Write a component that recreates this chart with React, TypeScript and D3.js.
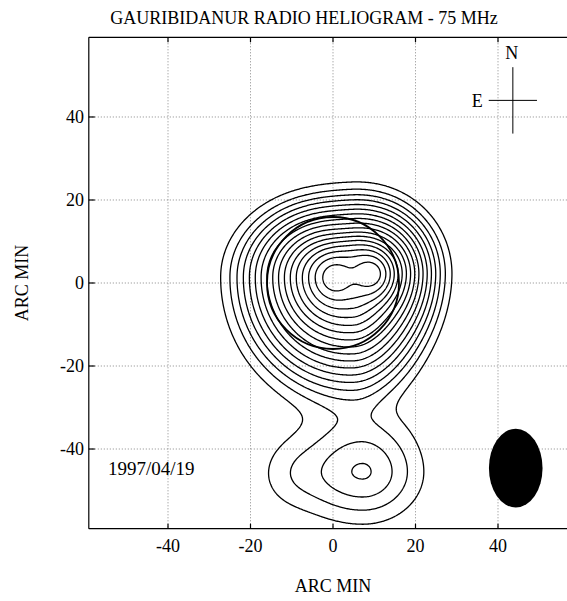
import React from 'react';
import * as d3 from 'd3';

// axes (arc min)
const extent = [-59.2, 59.2];
const xTicks = [-40, -20, 0, 20, 40];
const yTicks = [-40, -20, 0, 20, 40];
const levels = [1, 2, 3, 4, 5, 6, 7, 8, 9, 10, 11, 12, 13, 14, 15, 16, 17, 18];

// emission components: soft cones around one or two peaks
const coneX1 = [0.5, 7.2];
const coneY1 = [1.3, -45.5];
const coneX2 = [9.0, 7.2];
const coneY2 = [2.2, -45.5];
const conePeak = [20.2, 6.3];
const coneSlope = [0.714, 0.38];
const coneCore = [3.4, 5.8];
const coneTail = [1.5, 0.9];
const coneMerge = [2.6, 1.0];
const coneBlend = [12, 0];
const coneLeft = [0.98, 1.3];
const coneRight = [0.7, 1.08];
const coneUp = [0.75, 1.0];
const coneDown = [1.14, 0.92];

// faint gaussian features: bulge west of the southern source, bridge at the neck
const blobX = [-11, 6];
const blobY = [-46, -33];
const blobAmp = [0.95, 0.22];
const blobSx = [5.5, 16];
const blobSy = [6, 4];

// solar disk, beam, compass
const sunR = 16;
const beam = { x: 44.3, y: -44.6, rx: 6.5, ry: 9.5 };
const compass = { x: 43.6, y: 44, ns: 8, ew: 5.85 };
const dateLabel = '1997/04/19';

const W = 567, H = 601;
const font = '"Liberation Serif", "Times New Roman", serif';

function field(x: number, y: number) {
  let v = 0;
  for (let i = 0; i < coneX1.length; i++) {
    const single = coneX1[i] === coneX2[i] && coneY1[i] === coneY2[i];
    const d1 = Math.hypot(x - coneX1[i], y - coneY1[i]);
    const d2 = Math.hypot(x - coneX2[i], y - coneY2[i]);
    const t = coneMerge[i];
    const m = Math.min(d1, d2);
    let d = single ? d1 : m - t * Math.log(Math.exp((m - d1) / t) + Math.exp((m - d2) / t));

    // direction-dependent stretch, faded in away from the core
    const rx = x - (coneX1[i] + coneX2[i]) / 2, ry = y - (coneY1[i] + coneY2[i]) / 2;
    const r = Math.hypot(rx, ry);
    if (r > 0) {
      const kx = rx < 0 ? coneLeft[i] : coneRight[i];
      const ky = ry > 0 ? coneUp[i] : coneDown[i];
      const ks = r / Math.hypot(rx / kx, ry / ky);
      let wgt = 1;
      if (coneBlend[i] > 0) {
        const u = Math.min(1, r / coneBlend[i]);
        wgt = u * u * (3 - 2 * u);
      }
      d = d / (1 + (ks - 1) * wgt);
    }
    const f = conePeak[i] - coneSlope[i] * Math.sqrt(d * d + coneCore[i] * coneCore[i]);
    const tau = coneTail[i];
    v += f / tau > 30 ? f : tau * Math.log(1 + Math.exp(f / tau));
  }
  for (let i = 0; i < blobX.length; i++) {
    const dx = (x - blobX[i]) / blobSx[i], dy = (y - blobY[i]) / blobSy[i];
    v += blobAmp[i] * Math.exp(-0.5 * (dx * dx + dy * dy));
  }
  return v;
}

export default function App() {
  const x = d3.scaleLinear().domain(extent).range([88.8, 577.2]);
  const y = d3.scaleLinear().domain(extent).range([528.7, 37.3]);

  const step = 0.25;
  const n = Math.ceil((extent[1] - extent[0]) / step) + 1;
  const values = new Array(n * n);
  for (let j = 0; j < n; j++) {
    for (let i = 0; i < n; i++) {
      values[j * n + i] = field(extent[0] + i * step, extent[0] + j * step);
    }
  }
  const contours = d3.contours().size([n, n]).thresholds(levels)(values);
  const proj = d3.geoTransform({
    point(cx: number, cy: number) {
      (this as any).stream.point(
        x(extent[0] + (cx - 0.5) * step),
        y(extent[0] + (cy - 0.5) * step)
      );
    },
  });
  const path = d3.geoPath(proj);

  const x0 = x(extent[0]), x1 = x(extent[1]);
  const y0 = y(extent[0]), y1 = y(extent[1]);

  return (
    <svg width={W} height={H} style={{ position: 'absolute', left: 0, top: 0, background: '#fff' }}>
      <defs>
        <clipPath id="plot">
          <rect x={x0} y={y1} width={x1 - x0} height={y0 - y1} />
        </clipPath>
      </defs>
      <rect width={W} height={H} fill="#fff" />
      <text x={304} y={24} textAnchor="middle" fontFamily={font} fontSize={18}>
        GAURIBIDANUR RADIO HELIOGRAM - 75 MHz
      </text>

      {xTicks.map(t => (
        <line key={'gx' + t} x1={x(t)} x2={x(t)} y1={y1} y2={y0} stroke="#888" strokeWidth={1} strokeDasharray="1 2" />
      ))}
      {yTicks.map(t => (
        <line key={'gy' + t} x1={x0} x2={x1} y1={y(t)} y2={y(t)} stroke="#888" strokeWidth={1} strokeDasharray="1 2" />
      ))}

      <g clipPath="url(#plot)" fill="none" stroke="#000" strokeWidth={1.3}>
        {contours.map(c => (
          <path key={c.value} d={path(c as any) || ''} />
        ))}
        <circle cx={x(0)} cy={y(0)} r={x(sunR) - x(0)} strokeWidth={1.8} />
      </g>

      <ellipse cx={x(beam.x)} cy={y(beam.y)} rx={x(beam.rx) - x(0)} ry={y(0) - y(beam.ry)} fill="#000" />

      <g stroke="#000" strokeWidth={1}>
        <line x1={x(compass.x)} x2={x(compass.x)} y1={y(compass.y + compass.ns)} y2={y(compass.y - compass.ns)} />
        <line x1={x(compass.x - compass.ew)} x2={x(compass.x + compass.ew)} y1={y(compass.y)} y2={y(compass.y)} />
      </g>
      <text x={x(compass.x) - 1} y={59} textAnchor="middle" fontFamily={font} fontSize={18}>N</text>
      <text x={x(compass.x - compass.ew) - 6} y={107} textAnchor="end" fontFamily={font} fontSize={18}>E</text>
      <text x={108} y={475} fontFamily={font} fontSize={19}>{dateLabel}</text>

      <g stroke="#000" strokeWidth={1.2} fill="none">
        <line x1={x0} x2={x1} y1={y1} y2={y1} />
        <line x1={x0} x2={x1} y1={y0} y2={y0} />
        <line x1={x0} x2={x0} y1={y1} y2={y0} />
        {xTicks.map(t => (
          <g key={'tx' + t}>
            <line x1={x(t)} x2={x(t)} y1={y0} y2={y0 - 5} />
            <line x1={x(t)} x2={x(t)} y1={y1} y2={y1 + 5} />
          </g>
        ))}
        {yTicks.map(t => (
          <line key={'ty' + t} x1={x0} x2={x0 + 6} y1={y(t)} y2={y(t)} />
        ))}
      </g>

      {xTicks.map(t => (
        <text key={'lx' + t} x={x(t)} y={552} textAnchor="middle" fontFamily={font} fontSize={18}>{t}</text>
      ))}
      {yTicks.map(t => (
        <text key={'ly' + t} x={84} y={y(t) + 6} textAnchor="end" fontFamily={font} fontSize={18}>{t}</text>
      ))}
      <text x={333} y={592} textAnchor="middle" fontFamily={font} fontSize={18}>ARC MIN</text>
      <text transform={`translate(28,283) rotate(-90)`} textAnchor="middle" fontFamily={font} fontSize={18}>ARC MIN</text>
    </svg>
  );
}
